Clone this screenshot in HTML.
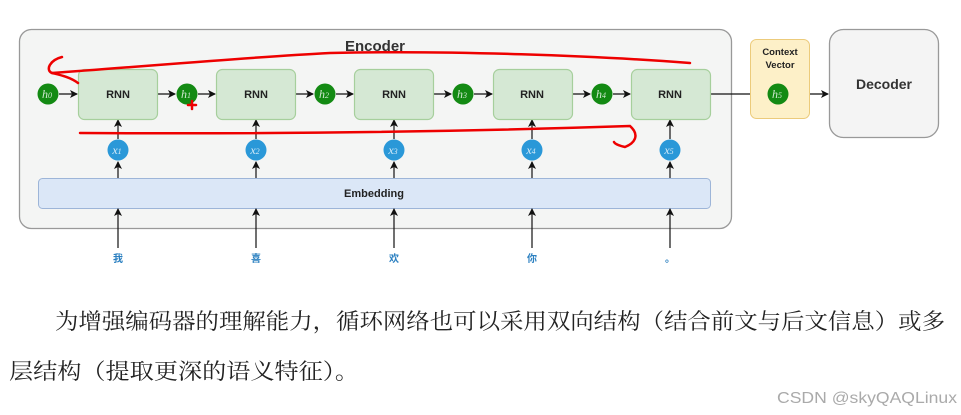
<!DOCTYPE html>
<html><head><meta charset="utf-8"><style>
html,body{margin:0;padding:0;background:#fff;}
svg{display:block;}
.s{font-family:"Liberation Sans",sans-serif;font-weight:bold;}
.c{font-family:"Liberation Serif","Noto Serif CJK SC",serif;}
</style></head><body>
<svg width="961" height="415" viewBox="0 0 961 415" xmlns="http://www.w3.org/2000/svg">
<defs>
<marker id="a" markerWidth="8" markerHeight="8" refX="7" refY="4" orient="auto" markerUnits="userSpaceOnUse">
<path d="M0,0 L8,4 L0,8 L2,4 Z" fill="#111"/></marker>
</defs>
<rect x="19.5" y="29.5" width="712" height="199" rx="12" fill="#f4f5f4" stroke="#999" stroke-width="1.3"/>
<text x="375" y="51" class="s" font-size="15" fill="#333" text-anchor="middle">Encoder</text>
<rect x="38.5" y="178.5" width="672" height="30" rx="4" fill="#dbe7f7" stroke="#9db5d8"/>
<text x="374" y="197" class="s" font-size="11" fill="#222" text-anchor="middle">Embedding</text>
<g stroke="#111" stroke-width="1.2" fill="none">
<line x1="59" y1="94" x2="77" y2="94" marker-end="url(#a)"/>
<line x1="157" y1="94" x2="175" y2="94" marker-end="url(#a)"/>
<line x1="198" y1="94" x2="215" y2="94" marker-end="url(#a)"/>
<line x1="295" y1="94" x2="313" y2="94" marker-end="url(#a)"/>
<line x1="336" y1="94" x2="353" y2="94" marker-end="url(#a)"/>
<line x1="434" y1="94" x2="451" y2="94" marker-end="url(#a)"/>
<line x1="474" y1="94" x2="492" y2="94" marker-end="url(#a)"/>
<line x1="572" y1="94" x2="590" y2="94" marker-end="url(#a)"/>
<line x1="613" y1="94" x2="630" y2="94" marker-end="url(#a)"/>
<line x1="710" y1="94" x2="766" y2="94" marker-end="url(#a)"/>
<line x1="789" y1="94" x2="828" y2="94" marker-end="url(#a)"/>
</g>
<g stroke="#111" stroke-width="1.2" fill="none">
<line x1="118" y1="139" x2="118" y2="120" marker-end="url(#a)"/><line x1="118" y1="178" x2="118" y2="162" marker-end="url(#a)"/><line x1="118" y1="248" x2="118" y2="209" marker-end="url(#a)"/>
<line x1="256" y1="139" x2="256" y2="120" marker-end="url(#a)"/><line x1="256" y1="178" x2="256" y2="162" marker-end="url(#a)"/><line x1="256" y1="248" x2="256" y2="209" marker-end="url(#a)"/>
<line x1="394" y1="139" x2="394" y2="120" marker-end="url(#a)"/><line x1="394" y1="178" x2="394" y2="162" marker-end="url(#a)"/><line x1="394" y1="248" x2="394" y2="209" marker-end="url(#a)"/>
<line x1="532" y1="139" x2="532" y2="120" marker-end="url(#a)"/><line x1="532" y1="178" x2="532" y2="162" marker-end="url(#a)"/><line x1="532" y1="248" x2="532" y2="209" marker-end="url(#a)"/>
<line x1="670" y1="139" x2="670" y2="120" marker-end="url(#a)"/><line x1="670" y1="178" x2="670" y2="162" marker-end="url(#a)"/><line x1="670" y1="248" x2="670" y2="209" marker-end="url(#a)"/>
</g>
<g fill="#d5e8d4" stroke="#a6cf9c" stroke-width="1.2">
<rect x="78.5" y="69.5" width="79" height="50" rx="6"/><rect x="216.5" y="69.5" width="79" height="50" rx="6"/><rect x="354.5" y="69.5" width="79" height="50" rx="6"/><rect x="493.5" y="69.5" width="79" height="50" rx="6"/><rect x="631.5" y="69.5" width="79" height="50" rx="6"/>
</g>
<g class="s" font-size="11" fill="#222" text-anchor="middle">
<text x="118" y="98">RNN</text><text x="256" y="98">RNN</text><text x="394" y="98">RNN</text><text x="532" y="98">RNN</text><text x="670" y="98">RNN</text>
</g>
<rect x="750.5" y="39.5" width="59" height="79" rx="6" fill="#fdf0c8" stroke="#eccb7b"/>
<text x="780" y="55" class="s" font-size="9.5" fill="#222" text-anchor="middle">Context</text>
<text x="780" y="68" class="s" font-size="9.5" fill="#222" text-anchor="middle">Vector</text>
<rect x="829.5" y="29.5" width="109" height="108" rx="14" fill="#f4f4f4" stroke="#999" stroke-width="1.3"/>
<text x="884" y="89" class="s" font-size="14" fill="#333" text-anchor="middle">Decoder</text>
<g fill="#138a13">
<circle cx="48" cy="94" r="10.5"/><circle cx="187" cy="94" r="10.5"/><circle cx="325" cy="94" r="10.5"/><circle cx="463" cy="94" r="10.5"/><circle cx="602" cy="94" r="10.5"/><circle cx="778" cy="94" r="10.5"/>
</g>
<g font-family="Liberation Serif,serif" font-style="italic" font-size="12" fill="#cfe8cf" text-anchor="middle">
<text x="47" y="98">h<tspan font-size="8">0</tspan></text><text x="186" y="98">h<tspan font-size="8">1</tspan></text><text x="324" y="98">h<tspan font-size="8">2</tspan></text><text x="462" y="98">h<tspan font-size="8">3</tspan></text><text x="601" y="98">h<tspan font-size="8">4</tspan></text><text x="777" y="98">h<tspan font-size="8">5</tspan></text>
</g>
<g fill="#2a98d8">
<circle cx="118" cy="150" r="10.5"/><circle cx="256" cy="150" r="10.5"/><circle cx="394" cy="150" r="10.5"/><circle cx="532" cy="150" r="10.5"/><circle cx="670" cy="150" r="10.5"/>
</g>
<g font-family="Liberation Serif,serif" font-style="italic" font-size="12" fill="#d6ecf9" text-anchor="middle">
<text x="117" y="154">x<tspan font-size="8">1</tspan></text><text x="255" y="154">x<tspan font-size="8">2</tspan></text><text x="393" y="154">x<tspan font-size="8">3</tspan></text><text x="531" y="154">x<tspan font-size="8">4</tspan></text><text x="669" y="154">x<tspan font-size="8">5</tspan></text>
</g>
<g font-family="Liberation Sans,Noto Sans CJK SC,sans-serif" font-weight="bold" font-size="10" fill="#2a7fc0" text-anchor="middle">
<text x="118" y="262">我</text><text x="256" y="262">喜</text><text x="394" y="262">欢</text><text x="532" y="262">你</text><text x="670" y="262">。</text>
</g>
<g stroke="#e00" stroke-width="2.5" fill="none" stroke-linecap="round">
<path d="M62,57 C50,60 45,70 52,73 C60,75 70,77 78,83"/>
<path d="M52,73 C150,66 250,57 330,53 C450,50 600,56 690,63"/>
<path d="M80,133 C250,134 450,132 630,126 C640,135 635,143 625,147 C620,146 615,144 614,142"/>
<path d="M188,105 L196,105 M192,101 L192,109"/>
</g>
<text x="55" y="329" class="c" font-size="22" fill="#222" textLength="890" lengthAdjust="spacingAndGlyphs">为增强编码器的理解能力，循环网络也可以采用双向结构（结合前文与后文信息）或多</text>
<text x="9" y="379" class="c" font-size="22" fill="#222" textLength="350" lengthAdjust="spacingAndGlyphs">层结构（提取更深的语义特征）。</text>
<text x="777" y="403" font-family="Liberation Sans,sans-serif" font-size="16" fill="#aaa" textLength="180" lengthAdjust="spacingAndGlyphs">CSDN @skyQAQLinux</text>
</svg>
</body></html>
